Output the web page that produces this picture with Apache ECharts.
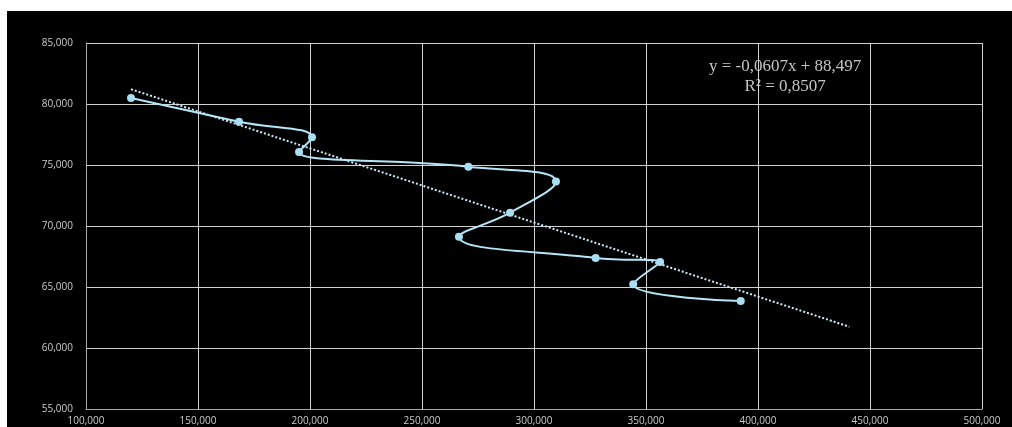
<!DOCTYPE html>
<html lang="en">
<head>
    <meta charset="UTF-8">
    <title>Trend chart</title>
    <script type="text/javascript" src="https://cdn.jsdelivr.net/npm/echarts@6/dist/echarts.min.js"></script>
    <style>
        html, body { margin: 0; padding: 0; background: #ffffff; }
        #main { position: absolute; left: 7px; top: 11px; width: 1005px; height: 416px; }
    </style>
</head>
<body>
<div id="main"></div>
<script>
    // data points (x, y)
    let xValues = [120100, 168300, 200900, 195100, 270700, 309800, 289300, 266500, 327500, 356300, 344300, 392300];
    let yValues = [80490, 78550, 77270, 76070, 74860, 73650, 71090, 69120, 67380, 67050, 65220, 63850];
    // dotted trend line end points
    let trendX = [120100, 440800];
    let trendY = [81210, 61740];
    let equationText = ['y = -0,0607x + 88,497', 'R² = 0,8507'];

    let points = xValues.map((x, i) => [x, yValues[i]]);
    let trend = trendX.map((x, i) => [x, trendY[i]]);

    let myChart = echarts.init(document.getElementById('main'));
    const gridColor = '#d2d2d2';
    const labelStyle = {
        color: '#cccccc',
        fontFamily: 'Open Sans',
        fontSize: 10
    };

    let option = {
        backgroundColor: '#000000',
        animation: false,
        grid: {left: 79, top: 32, width: 896, height: 366},
        xAxis: {
            type: 'value',
            min: 100000,
            max: 500000,
            interval: 50000,
            axisLine: {show: true, lineStyle: {color: '#a8a8a8'}},
            axisTick: {show: false},
            splitLine: {show: true, lineStyle: {color: gridColor, width: 1}},
            axisLabel: Object.assign({margin: 7, formatter: v => v.toLocaleString('en-US')}, labelStyle)
        },
        yAxis: {
            type: 'value',
            min: 55000,
            max: 85000,
            interval: 5000,
            axisLine: {show: true, lineStyle: {color: '#a8a8a8'}},
            axisTick: {show: false},
            splitLine: {show: true, lineStyle: {color: gridColor, width: 1}},
            axisLabel: Object.assign({margin: 13, formatter: v => v.toLocaleString('en-US')}, labelStyle)
        },
        graphic: [{
            type: 'text',
            left: 702,
            top: 46,
            style: {
                text: equationText.join('\n'),
                fill: '#c4c4c4',
                font: '17px "Liberation Serif"',
                textAlign: 'center',
                lineHeight: 20
            }
        }],
        series: [{
            name: 'trend',
            type: 'line',
            data: trend,
            symbol: 'none',
            lineStyle: {color: '#cdeaf7', width: 2, type: [2, 2]},
            z: 2
        }, {
            name: 'data',
            type: 'line',
            data: points,
            smooth: 0.45,
            symbol: 'circle',
            symbolSize: 8,
            itemStyle: {color: '#a9def3'},
            lineStyle: {color: '#b5e5f7', width: 2},
            z: 3
        }]
    };
    myChart.setOption(option);
</script>
</body>
</html>
